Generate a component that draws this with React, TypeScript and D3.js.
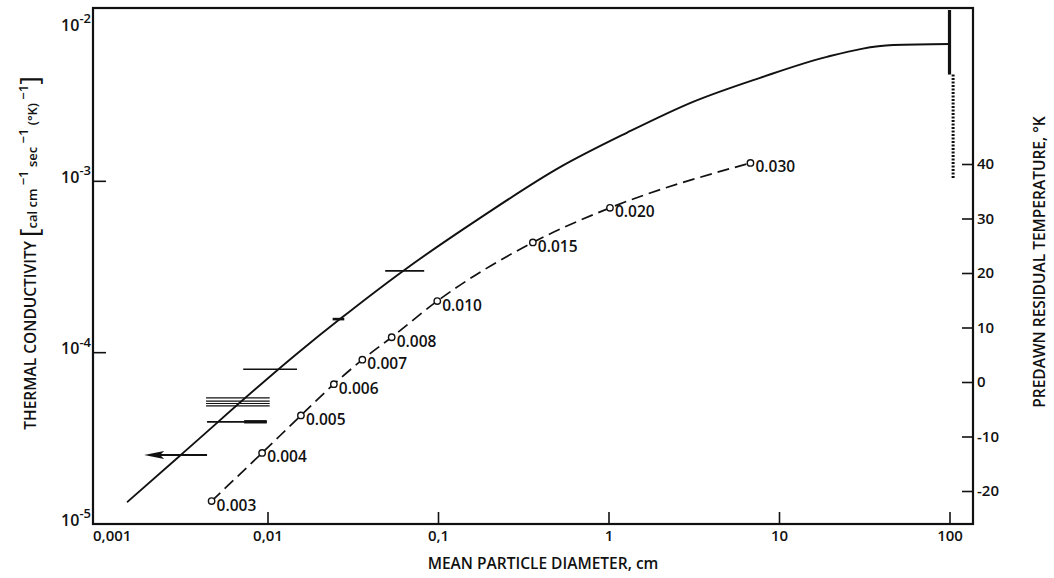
import { useRef, useEffect } from "react";
import * as d3 from "d3";

// solid curve: thermal conductivity vs mean particle diameter
const solidD = [0.0015, 0.0031, 0.0155, 0.0266, 0.0624, 0.176, 0.52, 1.28, 3.13, 7.74, 19.1, 46.7, 100];
const solidK = [1.34e-5, 2.53e-5, 1.02e-4, 1.57e-4, 3.0e-4, 6.1e-4, 1.21e-3, 1.92e-3, 2.91e-3, 4.02e-3, 5.33e-3, 6.25e-3, 6.33e-3];

// dashed curve with labelled points
const pointD = [0.0047, 0.0093, 0.0157, 0.0245, 0.036, 0.0535, 0.099, 0.36, 1.02, 6.8];
const pointK = [1.36e-5, 2.6e-5, 4.3e-5, 6.55e-5, 9.1e-5, 1.23e-4, 2.0e-4, 4.4e-4, 7.0e-4, 1.28e-3];
const pointLabels = ["0.003", "0.004", "0.005", "0.006", "0.007", "0.008", "0.010", "0.015", "0.020", "0.030"];

// horizontal range bars
const rangeLo = [0.049, 0.0241, 0.0072, 0.00436, 0.00436, 0.00436, 0.00436, 0.00442];
const rangeHi = [0.083, 0.0282, 0.0149, 0.0103, 0.0103, 0.0103, 0.0103, 0.0099];
const rangeK = [3.0e-4, 1.57e-4, 8.0e-5, 5.45e-5, 5.22e-5, 5.05e-5, 4.89e-5, 3.95e-5];
const thickEndLo = 0.0073;
const arrowFrom = 0.00442;
const arrowTo = 0.00189;
const arrowK = 2.53e-5;

// limit marks at right
const limitD = 100;
const limitK = [1e-2, 4.2e-3];
const dottedD = 105;
const dottedK = [4.2e-3, 1.03e-3];

// ticks
const xTicks = [0.001, 0.01, 0.1, 1, 10, 100];
const xTickLabels = ["0,001", "0,01", "0,1", "1", "10", "100"];
const yTicks = [1e-5, 1e-4, 1e-3, 1e-2];
const yExponents = ["-5", "-4", "-3", "-2"];
const tempTicks = [-20, -10, 0, 10, 20, 30, 40];

const FONT = "'Open Sans', sans-serif";

const App = () => {
  const svgRef = useRef<SVGSVGElement>(null);

  useEffect(() => {
    document.body.style.margin = "0";
    const w = 1054;
    const h = 578;
    const left = 93, right = 973, top = 8, bottom = 524;

    const svg = d3.select(svgRef.current).attr("width", w).attr("height", h).style("background", "#fff");
    svg.selectAll("*").remove();

    const x = d3.scaleLog().domain([0.001, 100]).range([97, 949.5]);
    const y = d3.scaleLog().domain([1e-5, 1e-2]).range([524, 10]);
    const t = d3.scaleLinear().domain([-20, 40]).range([491, 164]);

    // frame
    svg.append("rect")
      .attr("x", left).attr("y", top)
      .attr("width", right - left).attr("height", bottom - top)
      .attr("fill", "none").attr("stroke", "#111").attr("stroke-width", 2.2);

    // bottom axis
    const xAxis = d3.axisBottom(x)
      .tickValues(xTicks.slice(1))
      .tickSizeInner(-12).tickSizeOuter(0)
      .tickPadding(6)
      .tickFormat((d) => xTickLabels[xTicks.indexOf(+d)]);
    const xg = svg.append("g").attr("transform", `translate(0,${bottom})`).call(xAxis);
    xg.select(".domain").remove();
    xg.selectAll("line").attr("stroke", "#111").attr("stroke-width", 1.6);
    xg.selectAll("text").attr("font-family", FONT).attr("font-size", 15).attr("font-weight", 600).attr("fill", "#111");
    svg.append("text")
      .attr("x", x(xTicks[0]) - 4).attr("y", bottom + 6).attr("dy", "0.71em")
      .attr("font-family", FONT).attr("font-size", 15).attr("font-weight", 600).attr("fill", "#111")
      .text(xTickLabels[0]);

    // left axis ticks
    yTicks.slice(1, 3).forEach((v) => {
      svg.append("line")
        .attr("x1", left).attr("x2", left + 13)
        .attr("y1", y(v)).attr("y2", y(v))
        .attr("stroke", "#111").attr("stroke-width", 1.6);
    });
    yTicks.forEach((v, i) => {
      const ty = Math.max(y(v) - 4, 25);
      const txt = svg.append("text")
        .attr("x", 91).attr("y", ty).attr("dy", "0.36em")
        .attr("text-anchor", "end")
        .attr("font-family", FONT).attr("font-weight", 600).attr("fill", "#111");
      txt.append("tspan").attr("font-size", 16).text("10");
      txt.append("tspan").attr("font-size", 13).attr("dy", "-0.6em").text(yExponents[i]);
    });

    // right axis (temperature)
    const tAxis = d3.axisRight(t)
      .tickValues(tempTicks)
      .tickSizeInner(-11).tickSizeOuter(0)
      .tickPadding(4)
      .tickFormat((d) => String(d));
    const tg = svg.append("g").attr("transform", `translate(${right},0)`).call(tAxis);
    tg.select(".domain").remove();
    tg.selectAll("line").attr("stroke", "#111").attr("stroke-width", 1.6);
    tg.selectAll("text").attr("font-family", FONT).attr("font-size", 15).attr("font-weight", 600).attr("fill", "#111");

    // axis titles
    svg.append("text")
      .attr("x", 543).attr("y", 564).attr("dy", "0.35em")
      .attr("text-anchor", "middle")
      .attr("font-family", FONT).attr("font-size", 15.5).attr("font-weight", 600).attr("fill", "#111")
      .text("MEAN PARTICLE DIAMETER, cm");

    svg.append("text")
      .attr("transform", "translate(1040,262) rotate(-90)")
      .attr("dy", "0.35em")
      .attr("text-anchor", "middle")
      .attr("font-family", FONT).attr("font-size", 15.5).attr("font-weight", 600).attr("fill", "#111")
      .text("PREDAWN RESIDUAL TEMPERATURE, °K");

    const lt = svg.append("text")
      .attr("transform", "translate(30,253) rotate(-90)")
      .attr("dy", "0.35em")
      .attr("text-anchor", "middle")
      .attr("font-family", FONT).attr("font-weight", 600).attr("fill", "#111");
    lt.append("tspan").attr("font-size", 15.5).text("THERMAL CONDUCTIVITY ");
    lt.append("tspan").attr("font-size", 26).attr("font-weight", 400).attr("dy", "0.1em").text("[");
    lt.append("tspan").attr("font-size", 13).attr("dy", "-0.1em").text("cal cm");
    lt.append("tspan").attr("font-size", 13).attr("dy", "-0.7em").text(" −1");
    lt.append("tspan").attr("font-size", 13).attr("dy", "0.7em").text(" sec");
    lt.append("tspan").attr("font-size", 13).attr("dy", "-0.7em").text(" −1");
    lt.append("tspan").attr("font-size", 13).attr("dy", "0.7em").text("  (°K)");
    lt.append("tspan").attr("font-size", 13).attr("dy", "-0.7em").text(" −1");
    lt.append("tspan").attr("font-size", 26).attr("font-weight", 400).attr("dy", "0.4em").text("]");

    // solid curve
    const solidLine = d3.line<number>()
      .x((d) => x(d))
      .y((d, i) => y(solidK[i]))
      .curve(d3.curveMonotoneX);
    svg.append("path")
      .attr("d", solidLine(solidD))
      .attr("fill", "none").attr("stroke", "#111").attr("stroke-width", 1.9);

    // dashed curve
    const dashLine = d3.line<number>()
      .x((d) => x(d))
      .y((d, i) => y(pointK[i]))
      .curve(d3.curveMonotoneX);
    svg.append("path")
      .attr("d", dashLine(pointD))
      .attr("fill", "none").attr("stroke", "#111").attr("stroke-width", 1.7)
      .attr("stroke-dasharray", "12,6");

    svg.selectAll(".pt")
      .data(pointD)
      .join("circle")
      .attr("class", "pt")
      .attr("cx", (d) => x(d))
      .attr("cy", (d, i) => y(pointK[i]))
      .attr("r", 3.2)
      .attr("fill", "#fff").attr("stroke", "#111").attr("stroke-width", 1.4);

    svg.selectAll(".ptl")
      .data(pointD)
      .join("text")
      .attr("class", "ptl")
      .attr("x", (d) => x(d) + 5)
      .attr("y", (d, i) => y(pointK[i]) + 4)
      .attr("dy", "0.35em")
      .attr("font-family", FONT).attr("font-size", 15.5).attr("font-weight", 600).attr("fill", "#111")
      .text((d, i) => pointLabels[i]);

    // range bars
    rangeK.forEach((k, i) => {
      svg.append("line")
        .attr("x1", x(rangeLo[i])).attr("x2", x(rangeHi[i]))
        .attr("y1", y(k)).attr("y2", y(k))
        .attr("stroke", "#111")
        .attr("stroke-width", i === 1 ? 2.6 : i >= 3 && i <= 6 ? 1.2 : 1.7);
    });
    const lastK = rangeK[rangeK.length - 1];
    svg.append("line")
      .attr("x1", x(thickEndLo)).attr("x2", x(rangeHi[rangeHi.length - 1]))
      .attr("y1", y(lastK)).attr("y2", y(lastK))
      .attr("stroke", "#111").attr("stroke-width", 3.4);

    // arrow
    const ay = y(arrowK);
    svg.append("line")
      .attr("x1", x(arrowFrom)).attr("x2", x(arrowTo) + 10)
      .attr("y1", ay).attr("y2", ay)
      .attr("stroke", "#111").attr("stroke-width", 2);
    const tip = x(arrowTo);
    svg.append("path")
      .attr("d", `M${tip},${ay} L${tip + 20},${ay - 4} L${tip + 16},${ay} L${tip + 20},${ay + 4} Z`)
      .attr("fill", "#111");

    // limit marks
    svg.append("line")
      .attr("x1", x(limitD)).attr("x2", x(limitD))
      .attr("y1", y(limitK[0])).attr("y2", y(limitK[1]))
      .attr("stroke", "#111").attr("stroke-width", 3.2);
    svg.append("line")
      .attr("x1", x(dottedD)).attr("x2", x(dottedD))
      .attr("y1", y(dottedK[0])).attr("y2", y(dottedK[1]))
      .attr("stroke", "#111").attr("stroke-width", 3)
      .attr("stroke-dasharray", "2,1.5");
  }, []);

  return <svg ref={svgRef}></svg>;
};

export default App;
